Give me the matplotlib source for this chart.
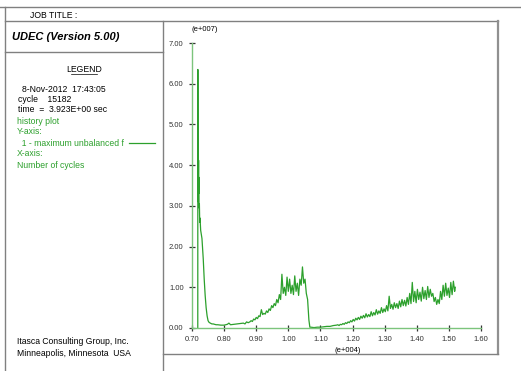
#! /usr/bin/env python
""" UDEC history plot: maximum unbalanced force vs number of cycles. """
import matplotlib
matplotlib.use("Agg")
import matplotlib.pyplot as plt

plt.rcParams['font.family'] = ['Liberation Sans', 'DejaVu Sans']

# cycles (e+004) and maximum unbalanced force (e+007)
cycles = [
    0.718, 0.7182, 0.7186, 0.7195, 0.7200, 0.7205, 0.7210, 0.7215, 0.722, 0.723,
    0.724, 0.725, 0.727, 0.729, 0.731, 0.735, 0.738, 0.741, 0.744, 0.747,
    0.750, 0.753, 0.757, 0.762, 0.766, 0.770, 0.775, 0.780, 0.790, 0.800,
    0.810, 0.815, 0.820, 0.830, 0.840, 0.850, 0.860, 0.865, 0.870, 0.875,
    0.880, 0.884, 0.888, 0.892, 0.896, 0.900, 0.904, 0.908, 0.912, 0.916,
    0.920, 0.924, 0.928, 0.932, 0.936, 0.940, 0.944, 0.948, 0.952, 0.956,
    0.960, 0.964, 0.968, 0.972, 0.976, 0.980, 0.984, 0.988, 0.992, 0.996,
    1.000, 1.004, 1.008, 1.012, 1.016, 1.020, 1.024, 1.028, 1.032, 1.036,
    1.040, 1.044, 1.048, 1.052, 1.056, 1.060, 1.064, 1.067, 1.070, 1.080,
    1.090, 1.100, 1.110, 1.120, 1.130, 1.140, 1.150,
    1.154, 1.158, 1.162, 1.166, 1.170, 1.174, 1.178, 1.182, 1.186, 1.190,
    1.194, 1.198, 1.202, 1.206, 1.210, 1.214, 1.218, 1.222, 1.226, 1.230,
    1.234, 1.238, 1.242, 1.246, 1.250, 1.254, 1.258, 1.262, 1.266, 1.270,
    1.274, 1.278, 1.282, 1.286, 1.290, 1.294, 1.298, 1.302, 1.306, 1.310,
    1.314, 1.318, 1.322, 1.326, 1.330, 1.334, 1.338, 1.342, 1.346, 1.350,
    1.354, 1.358, 1.362, 1.366, 1.370, 1.374, 1.378, 1.382, 1.386, 1.390,
    1.394, 1.398, 1.402, 1.406, 1.410, 1.414, 1.418, 1.422, 1.426, 1.430,
    1.434, 1.438, 1.442, 1.446, 1.450, 1.454, 1.458, 1.462, 1.466, 1.470,
    1.474, 1.478, 1.482, 1.486, 1.490, 1.494, 1.498, 1.502, 1.506, 1.510,
    1.514, 1.518, 1.520,
]
unbalanced = [
    0.00, 6.35, 3.40, 3.10, 3.60, 4.12, 3.30, 3.70, 2.95, 3.05,
    2.60, 2.70, 2.40, 2.30, 2.20, 1.70, 1.20, 0.80, 0.50, 0.30,
    0.18, 0.14, 0.12, 0.10, 0.10, 0.09, 0.08, 0.08, 0.07, 0.07,
    0.09, 0.12, 0.08, 0.09, 0.10, 0.11, 0.12, 0.10, 0.15, 0.13,
    0.15, 0.18, 0.16, 0.22, 0.20, 0.26, 0.23, 0.30, 0.28, 0.45,
    0.33, 0.36, 0.34, 0.42, 0.38, 0.47, 0.43, 0.55, 0.50, 0.60,
    0.55, 0.70, 0.62, 0.82, 0.70, 1.32, 0.85, 1.00, 0.80, 1.25,
    0.90, 1.20, 0.85, 1.05, 0.82, 1.28, 0.90, 1.10, 0.80, 1.20,
    1.05, 1.50, 1.10, 1.20, 0.85, 0.70, 0.20, 0.02, 0.02, 0.01,
    0.02, 0.02, 0.03, 0.04, 0.04, 0.06, 0.07,
    0.08, 0.06, 0.09, 0.08, 0.11, 0.09, 0.13, 0.11, 0.15, 0.13,
    0.18, 0.15, 0.21, 0.17, 0.24, 0.20, 0.26, 0.21, 0.29, 0.24,
    0.31, 0.25, 0.35, 0.27, 0.33, 0.28, 0.40, 0.30, 0.38, 0.32,
    0.45, 0.34, 0.42, 0.36, 0.50, 0.38, 0.47, 0.40, 0.55, 0.42,
    0.78, 0.48, 0.58, 0.46, 0.62, 0.50, 0.60, 0.48, 0.66, 0.52,
    0.70, 0.55, 0.68, 0.54, 0.75, 0.58, 0.85, 0.60, 1.12, 0.65,
    0.90, 0.62, 0.95, 0.70, 0.88, 0.66, 1.00, 0.72, 0.92, 0.70,
    1.02, 0.75, 0.95, 0.78, 0.85, 0.65, 0.75, 0.58, 0.70, 0.60,
    0.90, 0.70, 1.05, 0.78, 1.10, 0.80, 0.98, 0.75, 1.12, 0.82,
    1.15, 0.90, 1.00,
]
x_ticks = [0.70, 0.80, 0.90, 1.00, 1.10, 1.20, 1.30, 1.40, 1.50, 1.60]
y_ticks = [0.00, 1.00, 2.00, 3.00, 4.00, 5.00, 6.00, 7.00]

GREEN = "#2ca02c"
AXIS_GREEN = "#7cc47c"
W, H = 521, 371

fig = plt.figure(figsize=(W / 100, H / 100), dpi=100)

# page frame and legend panel, in pixel coordinates
page = fig.add_axes([0, 0, 1, 1])
page.set_xlim(0, W)
page.set_ylim(H, 0)
page.axis("off")
frame = dict(color="#808080", lw=1.0)
page.plot([0, W], [7, 7], **frame)
page.plot([5, 498], [21, 21], **frame)
page.plot([5, 5], [7, H], **frame)
page.plot([163, 163], [21, H], **frame)
page.plot([5, 163], [52, 52], **frame)
page.plot([498, 498], [21, 354], color="#909090", lw=1.6)
page.plot([163, 498], [354, 354], **frame)

fs = 6.2
page.text(30, 15, "JOB TITLE :", fontsize=fs, va="center")
page.text(12, 37, "UDEC (Version 5.00)", fontsize=8, fontweight="bold",
          fontstyle="italic", va="center")
page.text(84, 69, "LEGEND", fontsize=fs, ha="center", va="center")
page.plot([71, 97], [73.5, 73.5], color="black", lw=0.5)
page.text(22, 89, "8-Nov-2012  17:43:05", fontsize=fs, va="center")
page.text(18, 100, "cycle    15182", fontsize=fs, va="center")
page.text(18, 110, "time  =  3.923E+00 sec", fontsize=fs, va="center")
green_lines = ["history plot", "Y-axis:", "  1 - maximum unbalanced f",
               "X-axis:", "Number of cycles"]
for i, s in enumerate(green_lines):
    page.text(17, 121 + i * 11, s, fontsize=fs, va="center", color=GREEN)
page.plot([129, 155], [143, 143], color=GREEN, lw=0.9)
page.text(17, 341, "Itasca Consulting Group, Inc.", fontsize=fs, va="center")
page.text(17, 353, "Minneapolis, Minnesota  USA", fontsize=fs, va="center")

# history plot
ax = fig.add_axes([192 / W, (H - 328) / H, (481 - 192) / W, (328 - 43) / H])
ax.plot(cycles, unbalanced, color=GREEN, lw=0.9)
ax.set_xlim(0.70, 1.60)
ax.set_ylim(0, 7)
ax.set_xticks(x_ticks)
ax.set_xticklabels(["%.2f" % t for t in x_ticks])
ax.set_yticks(y_ticks)
ax.set_yticklabels(["%.2f" % t for t in y_ticks])
for side in ("top", "right"):
    ax.spines[side].set_visible(False)
for side in ("left", "bottom"):
    ax.spines[side].set_color(AXIS_GREEN)
    ax.spines[side].set_linewidth(1.0)
ax.tick_params(direction="inout", length=4, width=0.9, color="#333333",
               labelsize=5.5, labelcolor="#333333", pad=4)
ax.patch.set_alpha(0)
ax.text(0.0, 1.035, "(e+007)", transform=ax.transAxes, fontsize=5.5,
        ha="left", va="bottom")
ax.text(0.54, -0.065, "(e+004)", transform=ax.transAxes, fontsize=5.5,
        ha="center", va="top")

fig.savefig("out.png", dpi=100)
